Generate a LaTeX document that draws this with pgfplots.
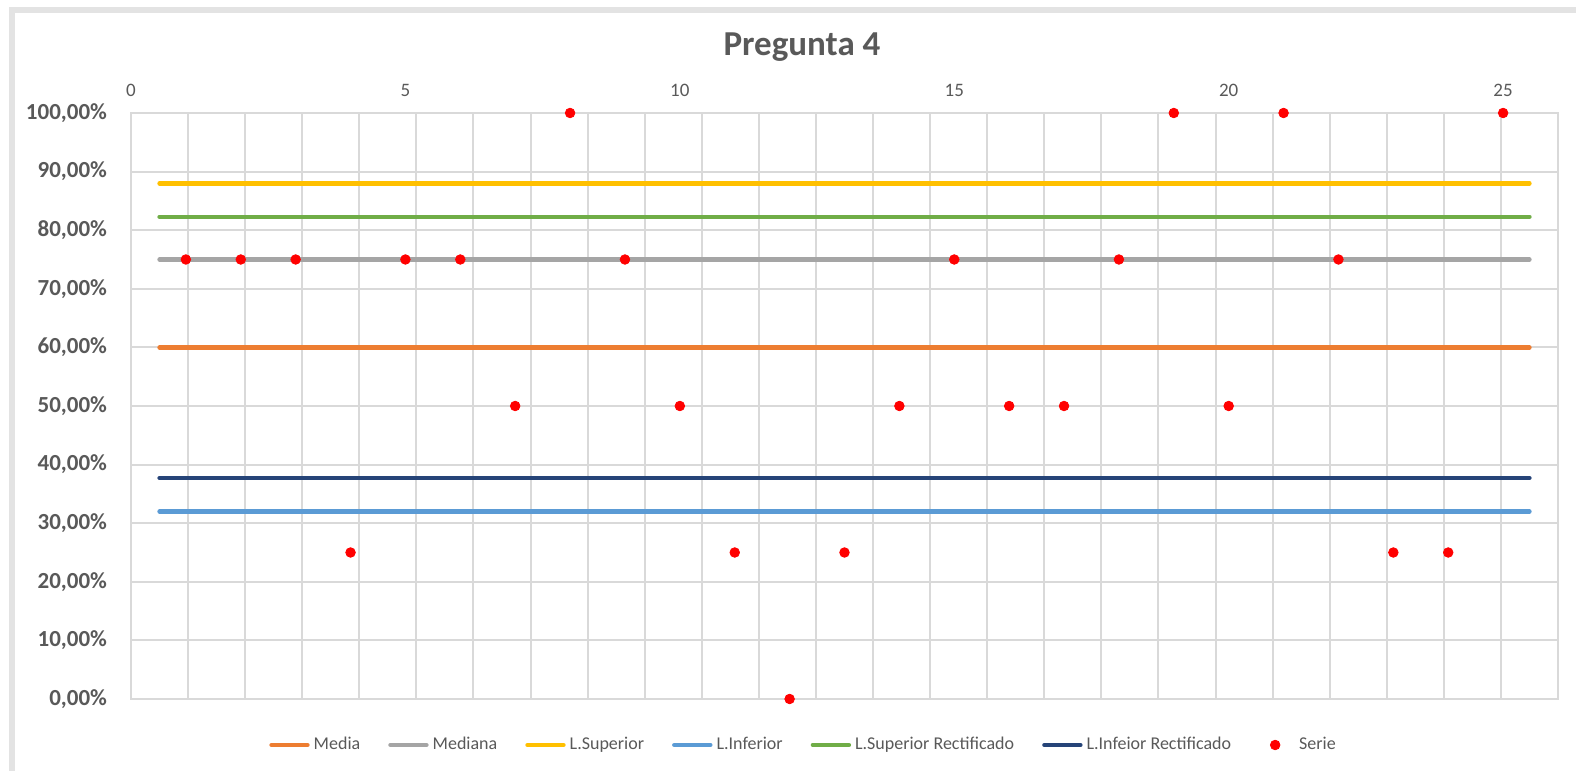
\documentclass[border=0pt]{standalone}
\usepackage{fontspec}
\setmainfont{Carlito}
\usepackage{pgfplots}
\pgfplotsset{compat=1.18}
\definecolor{cMedia}{HTML}{ED7D31}
\definecolor{cMediana}{HTML}{A5A5A5}
\definecolor{cLSup}{HTML}{FFC000}
\definecolor{cLInf}{HTML}{5B9BD5}
\definecolor{cLSupR}{HTML}{70AD47}
\definecolor{cLInfR}{HTML}{264478}
\definecolor{gridc}{HTML}{D9D9D9}
\definecolor{labc}{HTML}{595959}
\definecolor{framec}{HTML}{E3E3E3}
\begin{document}
\begin{tikzpicture}
\useasboundingbox (0,0) rectangle (788pt,385.5pt);
\fill[white] (0,0) rectangle (788pt,385.5pt);
\draw[line width=3pt, color=framec] (6.2pt,0) -- (6.2pt,380.3pt) -- (788pt,380.3pt);
\node[font=\fontsize{17.5}{20}\selectfont\bfseries, text=labc] at (401pt,362pt) {Pregunta 4};
\begin{axis}[
 at={(65.5pt,36pt)}, anchor=south west,
 scale only axis, width=713.5pt, height=293pt,
 xmin=0, xmax=26, ymin=0, ymax=100,
 clip=false,
 axis line style={color=gridc, line width=1pt},
 xtick={0,5,10,15,20,25}, xticklabels={0,5,10,15,20,25},
 xticklabel pos=upper,
 major tick length=0pt,
 extra x ticks={0,1.04,2.08,3.12,4.16,5.2,6.24,7.28,8.32,9.36,10.4,11.44,12.48,13.52,14.56,15.6,16.64,17.68,18.72,19.76,20.8,21.84,22.88,23.92,24.96,26},
 extra x tick labels={},
 extra x tick style={grid=major},
 ytick={0,10,20,30,40,50,60,70,80,90,100},
 yticklabels={{0,00\%},{10,00\%},{20,00\%},{30,00\%},{40,00\%},{50,00\%},{60,00\%},{70,00\%},{80,00\%},{90,00\%},{100,00\%}},
 ymajorgrids,
 grid style={color=gridc, line width=1pt},
 x tick label style={font=\fontsize{9.5}{10}\selectfont, text=labc, yshift=4.5pt},
 y tick label style={font=\fontsize{11.5}{13}\selectfont\bfseries, text=labc, xshift=-8.5pt},
 legend columns=7,
 legend style={at={(0.472,-0.0785)}, anchor=center, draw=none, fill=none,
   font=\fontsize{9}{10}\selectfont, text=labc,
   /tikz/every even column/.append style={column sep=12pt}},
 legend image code/.code={\draw[#1, line width=2.2pt, line cap=round] (0pt,0pt) -- (18pt,0pt);},
]
\addplot[cMedia, line width=2.2pt, line cap=round] coordinates {(0.52,60) (25.48,60)};
\addlegendentry{Media}
\addplot[cMediana, line width=2.2pt, line cap=round] coordinates {(0.52,75) (25.48,75)};
\addlegendentry{Mediana}
\addplot[cLSup, line width=2.2pt, line cap=round] coordinates {(0.52,88) (25.48,88)};
\addlegendentry{L.Superior}
\addplot[cLInf, line width=2.2pt, line cap=round] coordinates {(0.52,32) (25.48,32)};
\addlegendentry{L.Inferior}
\addplot[cLSupR, line width=2.2pt, line cap=round] coordinates {(0.52,82.3) (25.48,82.3)};
\addlegendentry{L.Superior Rectificado}
\addplot[cLInfR, line width=2.2pt, line cap=round] coordinates {(0.52,37.7) (25.48,37.7)};
\addlegendentry{L.Infeior Rectificado}
\addplot[only marks, mark=*, mark size=2.4pt, color=red,
  legend image code/.code={\path[draw=none,fill=none] (0pt,-1pt) rectangle (18pt,1pt); \fill[red] (8pt,0pt) circle (2.4pt);}] coordinates {
 (1,75) (2,75) (3,75) (4,25) (5,75) (6,75) (7,50) (8,100) (9,75) (10,50)
 (11,25) (12,0) (13,25) (14,50) (15,75) (16,50) (17,50) (18,75) (19,100) (20,50)
 (21,100) (22,75) (23,25) (24,25) (25,100)};
\addlegendentry{Serie}
\end{axis}
\end{tikzpicture}
\end{document}
